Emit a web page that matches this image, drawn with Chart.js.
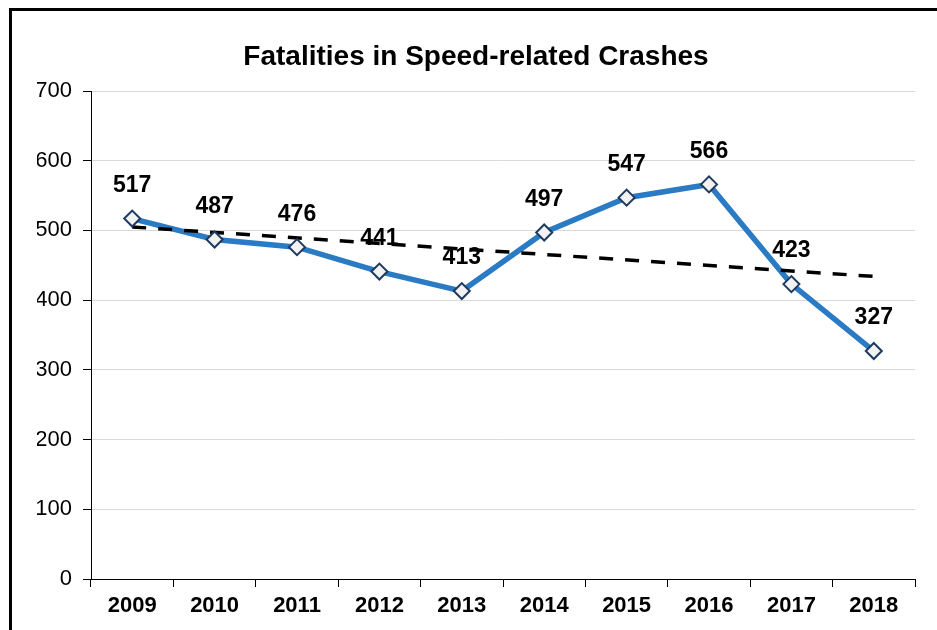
<!DOCTYPE html>
<html>
<head>
<meta charset="utf-8">
<title>Fatalities in Speed-related Crashes</title>
<script src="https://cdn.jsdelivr.net/npm/chart.js@4/dist/chart.umd.min.js"></script>
<style>
  html, body { margin: 0; padding: 0; background: #ffffff; }
  body { width: 937px; height: 630px; overflow: hidden; position: relative; }
  #frame {
    position: absolute; left: 9px; top: 8px;
    width: 1000px; height: 1000px;
    border: 3px solid #000000; box-sizing: border-box;
  }
  #wrap { position: absolute; left: 0; top: 0; width: 937px; height: 630px; }
</style>
</head>
<body>
<div id="frame"></div>
<div id="wrap"><canvas id="chart" width="937" height="630"></canvas></div>
<script>
// Yearly fatalities in speed-related crashes
const years = ['2009', '2010', '2011', '2012', '2013', '2014', '2015', '2016', '2017', '2018'];
const fatalities = [517, 487, 476, 441, 413, 497, 547, 566, 423, 327];
// Linear trend: start and end values, straight segment between them
const trendline = [505, null, null, null, null, null, null, null, null, 434];
const yTicks = [0, 100, 200, 300, 400, 500, 600, 700];

const FONT = '"Liberation Sans", Arial, Helvetica, sans-serif';

// Writes each year's value above its point
const valueLabels = {
  id: 'valueLabels',
  afterDatasetsDraw(chart) {
    const meta = chart.getDatasetMeta(0);
    const ctx = chart.ctx;
    ctx.save();
    ctx.font = 'bold 23px ' + FONT;
    ctx.fillStyle = '#000000';
    ctx.textAlign = 'center';
    ctx.textBaseline = 'middle';
    meta.data.forEach((pt, i) => {
      ctx.fillText(String(fatalities[i]), pt.x, pt.y - 33);
    });
    ctx.restore();
  }
};

new Chart(document.getElementById('chart'), {
  type: 'line',
  data: {
    labels: years,
    datasets: [
      {
        label: 'Fatalities (markers)',
        data: fatalities,
        showLine: false,
        pointStyle: 'rectRot',
        pointRadius: 8,
        pointBackgroundColor: '#f2f2f2',
        pointBorderColor: '#1f3a5f',
        pointBorderWidth: 2,
        order: 0
      },
      {
        label: 'Trend',
        data: trendline,
        spanGaps: true,
        borderColor: '#000000',
        borderWidth: 3.5,
        borderDash: [14, 12],
        pointRadius: 0,
        fill: false,
        order: 1
      },
      {
        label: 'Fatalities',
        data: fatalities,
        borderColor: '#2a7ac4',
        borderWidth: 5.5,
        pointRadius: 0,
        tension: 0,
        fill: false,
        order: 2
      }
    ]
  },
  options: {
    responsive: false,
    animation: false,
    devicePixelRatio: 1,
    layout: { padding: { left: 37, right: 22, top: 0, bottom: 0 } },
    plugins: {
      legend: { display: false },
      tooltip: { enabled: false },
      title: {
        display: true,
        text: 'Fatalities in Speed-related Crashes',
        color: '#000000',
        font: { family: FONT, size: 28, weight: 'bold' },
        padding: { top: 40, bottom: 17.4 }
      }
    },
    scales: {
      x: {
        offset: true,
        grid: {
          offset: true,
          drawOnChartArea: false,
          drawTicks: true,
          tickLength: 8,
          tickColor: '#000000',
          color: '#000000'
        },
        border: { display: true, color: '#000000', width: 1 },
        ticks: {
          color: '#000000',
          padding: 6,
          maxRotation: 0,
          font: { family: FONT, size: 22, weight: 'bold' }
        },
        afterFit(scale) { scale.height = 51; }
      },
      y: {
        min: 0,
        max: 700,
        afterBuildTicks(scale) { scale.ticks = yTicks.map(v => ({ value: v })); },
        grid: {
          color: ctx => (ctx.tick && ctx.tick.value === 0) ? '#000000' : '#d9d9d9',
          lineWidth: 1,
          tickLength: 8,
          tickColor: '#000000'
        },
        border: { display: true, color: '#000000', width: 1 },
        ticks: {
          color: '#000000',
          padding: 11,
          font: { family: FONT, size: 22 }
        },
        afterFit(scale) { scale.width = 54; }
      }
    }
  },
  plugins: [valueLabels]
});
</script>
</body>
</html>
